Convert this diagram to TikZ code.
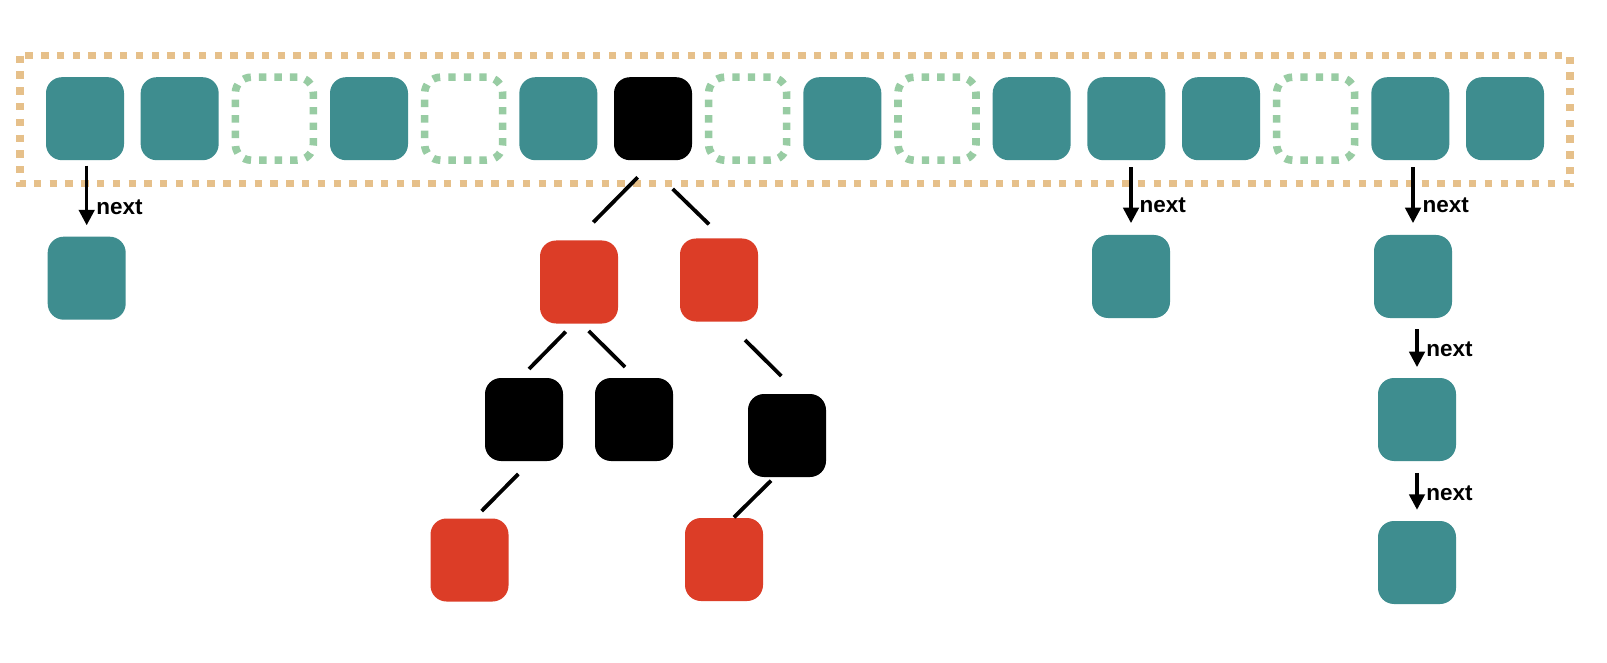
\documentclass[tikz,border=0pt]{standalone}
\usepackage{fontspec}
\setmainfont{Liberation Sans}
\usetikzlibrary{arrows.meta,calc}
\definecolor{teal}{RGB}{62,141,143}
\definecolor{rbred}{RGB}{220,61,39}
\definecolor{frameorange}{RGB}{230,192,138}
\definecolor{emptygreen}{RGB}{152,204,163}
\tikzset{
  box/.style={rectangle, rounded corners=16pt, minimum width=78pt, minimum height=83pt, inner sep=0pt, draw=none},
  tbox/.style={box, fill=teal},
  bbox/.style={box, fill=black},
  rbox/.style={box, fill=rbred},
  gbox/.style={box, draw=emptygreen, line width=7.6pt, dash pattern=on 7.4pt off 8.1pt},
  frame/.style={draw=frameorange, line width=7.6pt, dash pattern=on 7.4pt off 8.37pt},
  arr/.style={draw=black, line width=3.3pt, -{Triangle[length=15.5pt,width=15.5pt]}},
  edge/.style={draw=black, line width=3.8pt},
  lbl/.style={anchor=base west, inner sep=0pt, font=\fontsize{22.5}{26}\selectfont\bfseries}
}
\begin{document}
\begin{tikzpicture}[x=1pt,y=-1pt]
\useasboundingbox (0,0) rectangle (1607,663);
\fill[white] (0,0) rectangle (1607,663);
% frame
\draw[frame] (20,55.7) rectangle (1570,183.7);
% top row
\node[tbox] (c0) at (85,118.7) {};
\node[tbox] (c1) at (179.67,118.7) {};
\node[gbox] (c2) at (274.33,118.7) {};
\node[tbox] (c3) at (369,118.7) {};
\node[gbox] (c4) at (463.67,118.7) {};
\node[tbox] (c5) at (558.33,118.7) {};
\node[bbox] (c6) at (653,118.7) {};
\node[gbox] (c7) at (747.67,118.7) {};
\node[tbox] (c8) at (842.33,118.7) {};
\node[gbox] (c9) at (937,118.7) {};
\node[tbox] (c10) at (1031.67,118.7) {};
\node[tbox] (c11) at (1126.33,118.7) {};
\node[tbox] (c12) at (1221,118.7) {};
\node[gbox] (c13) at (1315.67,118.7) {};
\node[tbox] (c14) at (1410.33,118.7) {};
\node[tbox] (c15) at (1505,118.7) {};
% chains
\node[tbox] (l0) at (86.7,278.2) {};
\node[tbox] (l11) at (1131,276.5) {};
\node[tbox] (l14a) at (1413,276.5) {};
\node[tbox] (l14b) at (1417,419.5) {};
\node[tbox] (l14c) at (1417,562.5) {};
\draw[arr, shorten <=5.3pt, shorten >=11.2pt] (l0.north |- c0.south) -- (l0.north);
\draw[arr, shorten <=7pt, shorten >=11.7pt] (l11.north |- c11.south) -- (l11.north);
\draw[arr, shorten <=7pt, shorten >=11.7pt] (l14a.north |- c14.south) -- (l14a.north);
\draw[arr, shorten <=11pt, shorten >=10.7pt] (l14b.north |- l14a.south) -- (l14b.north);
\draw[arr, shorten <=11.7pt, shorten >=11pt] (l14c.north |- l14b.south) -- (l14c.north);
\node[lbl] (n0) at (96.2,215) {next};
\node[lbl] (n11) at (1139.5,213) {next};
\node[lbl] (n14a) at (1422.5,213) {next};
\node[lbl] (n14b) at (1426.2,356) {next};
\node[lbl] (n14c) at (1426.2,500) {next};
% tree
\node[rbox] (r1) at (579,282) {};
\node[rbox] (r2) at (719,280) {};
\node[bbox] (b1) at (524,419.5) {};
\node[bbox] (b2) at (634,419.5) {};
\node[bbox] (b3) at (787,435.5) {};
\node[rbox] (r3) at (469.5,560) {};
\node[rbox] (r4) at (724,559.5) {};
\draw[edge] ($(c6.center)+(-15.3,58.6)$) -- ($(r1.center)+(14.3,-59.7)$);
\draw[edge] ($(c6.center)+(19.7,70.3)$) -- ($(r2.center)+(-10,-55.7)$);
\draw[edge] ($(r1.center)+(-13.3,49.7)$) -- ($(b1.center)+(5,-50.5)$);
\draw[edge] ($(r1.center)+(9.7,49)$) -- ($(b2.center)+(-9,-52.5)$);
\draw[edge] ($(r2.center)+(26,60)$) -- ($(b3.center)+(-5.7,-59.5)$);
\draw[edge] ($(b1.center)+(-5.7,54.5)$) -- ($(r3.center)+(12.2,-49)$);
\draw[edge] ($(b3.center)+(-16,45.2)$) -- ($(r4.center)+(10,-42.2)$);
\end{tikzpicture}
\end{document}
